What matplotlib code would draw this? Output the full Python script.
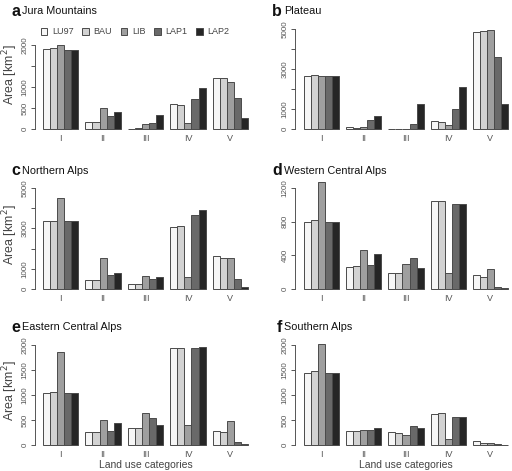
import matplotlib
matplotlib.use("Agg")
import matplotlib.pyplot as plt
from matplotlib.patches import Patch
import numpy as np

plt.rcParams['font.family'] = ['Liberation Sans', 'DejaVu Sans']

W, H = 512, 471

scenarios = ["LU97", "BAU", "LIB", "LAP1", "LAP2"]
categories = ["I", "II", "III", "IV", "V"]
colors = ["#f6f6f6", "#d2d2d2", "#9f9f9f", "#696969", "#262626"]

# values per region: rows = categories I..V, columns = scenarios
jura = [[1900, 1920, 2005, 1885, 1885],
        [165, 165, 490, 315, 400],
        [8, 22, 110, 150, 325],
        [600, 560, 140, 720, 965],
        [1210, 1210, 1115, 745, 270]]
plateau = [[2640, 2700, 2670, 2640, 2640],
           [80, 50, 80, 445, 625],
           [5, 5, 15, 265, 1255],
           [395, 330, 200, 990, 2110],
           [4835, 4900, 4965, 3600, 1270]]
northern = [[3370, 3390, 4500, 3370, 3370],
            [450, 450, 1510, 715, 800],
            [265, 265, 665, 515, 600],
            [3055, 3120, 615, 3670, 3935],
            [1645, 1545, 1545, 480, 100]]
western = [[793, 820, 1275, 793, 793],
           [263, 270, 462, 283, 415],
           [195, 195, 295, 363, 250],
           [1040, 1040, 195, 1008, 1008],
           [170, 140, 235, 22, 8]]
eastern = [[1047, 1067, 1853, 1047, 1047],
           [260, 253, 493, 287, 433],
           [347, 340, 640, 533, 400],
           [1940, 1947, 400, 1947, 1967],
           [287, 267, 473, 67, 13]]
southern = [[1444, 1490, 2020, 1444, 1444],
            [278, 285, 298, 298, 344],
            [252, 245, 192, 377, 331],
            [616, 636, 113, 563, 563],
            [86, 33, 46, 20, 7]]

panels = [
    ("a", "Jura Mountains", jura, [0, 500, 1000, 1500, 2000], ["0", "500", "1000", "", "2000"]),
    ("b", "Plateau", plateau, [0, 1000, 2000, 3000, 4000, 5000], ["0", "1000", "", "3000", "", "5000"]),
    ("c", "Northern Alps", northern, [0, 1000, 2000, 3000, 4000, 5000], ["0", "1000", "", "3000", "", "5000"]),
    ("d", "Western Central Alps", western, [0, 400, 800, 1200], ["0", "400", "800", "1200"]),
    ("e", "Eastern Central Alps", eastern, [0, 500, 1000, 1500, 2000], ["0", "500", "1000", "1500", "2000"]),
    ("f", "Southern Alps", southern, [0, 500, 1000, 1500, 2000], ["0", "500", "1000", "1500", "2000"]),
]

# pixel layout: (axis x, bars start, bars end, y of zero, y of top tick)
layout = [
    (35, 43, 248, 129, 45),
    (295, 304, 508, 129, 29),
    (35, 43, 248, 289, 188),
    (295, 304, 508, 289, 188),
    (35, 43, 248, 445, 345),
    (295, 304, 508, 445, 345),
]

fig = plt.figure(figsize=(W / 100, H / 100), dpi=100)
edgec = "#4a4a4a"

for i, ((letter, title, data, ticks, tlabels), (xa, xb0, xb1, yb, yt)) in enumerate(zip(panels, layout)):
    ppu = (xb1 - xb0) / 29.0
    xlo = -(xb0 - xa) / ppu
    xhi = 29.3
    k = 1.12
    tv = ticks[-1]
    ax_w = (xhi - xlo) * ppu
    ax_h = (yb - yt) * k
    ax = fig.add_axes([xa / W, 1 - yb / H, ax_w / W, ax_h / H])
    ax.set_xlim(xlo, xhi)
    ax.set_ylim(0, tv * k)
    arr = np.array(data)
    for j in range(5):
        xs = np.arange(5) * 6 + j + 0.5
        ax.bar(xs, arr[:, j], width=1.0, color=colors[j], edgecolor=edgec,
               linewidth=0.7, clip_on=False)
    for s in ["top", "right", "bottom"]:
        ax.spines[s].set_visible(False)
    ax.spines["left"].set_bounds(0, tv)
    ax.spines["left"].set_color("#555555")
    ax.spines["left"].set_linewidth(0.7)
    ax.set_yticks(ticks)
    ax.set_yticklabels(tlabels, rotation=90, va="center", fontsize=5.8, color="#555555")
    ax.tick_params(axis="y", length=3, width=0.7, color="#555555", pad=1.5)
    ax.set_xticks(np.arange(5) * 6 + 2.5)
    ax.set_xticklabels(categories, fontsize=6.5, color="#555555")
    ax.tick_params(axis="x", length=0, pad=3.5)
    ax.patch.set_visible(False)

    # titles
    tx = 22 if i % 2 == 0 else 284
    ty = {0: 11, 1: 11, 2: 171, 3: 171, 4: 327, 5: 327}[i]
    fig.text((tx - 2) / W, 1 - ty / H, letter, ha="right", va="center",
             fontsize=11.5, fontweight="bold", color="#111111")
    fig.text(tx / W, 1 - ty / H, title, ha="left", va="center",
             fontsize=7.8, color="#111111")

    if i % 2 == 0:
        fig.text(10 / W, 1 - (yb - 54) / H, "Area [km$^2$]", rotation=90,
                 ha="center", va="center", fontsize=9, color="#444444")
    if i >= 4:
        fig.text(((xb0 + xb1) / 2) / W, 1 - 465 / H, "Land use categories",
                 ha="center", va="center", fontsize=7.5, color="#444444")

handles = [Patch(facecolor=c, edgecolor=edgec, linewidth=0.7) for c in colors]
fig.legend(handles, scenarios, ncol=5, loc="center left",
           bbox_to_anchor=(41 / W, 1 - 32 / H), frameon=False, fontsize=6.5,
           handlelength=0.7, handleheight=0.7, handletextpad=0.5,
           columnspacing=1.0, labelcolor="#444444", borderpad=0, borderaxespad=0)

fig.savefig("out.png", dpi=100)
